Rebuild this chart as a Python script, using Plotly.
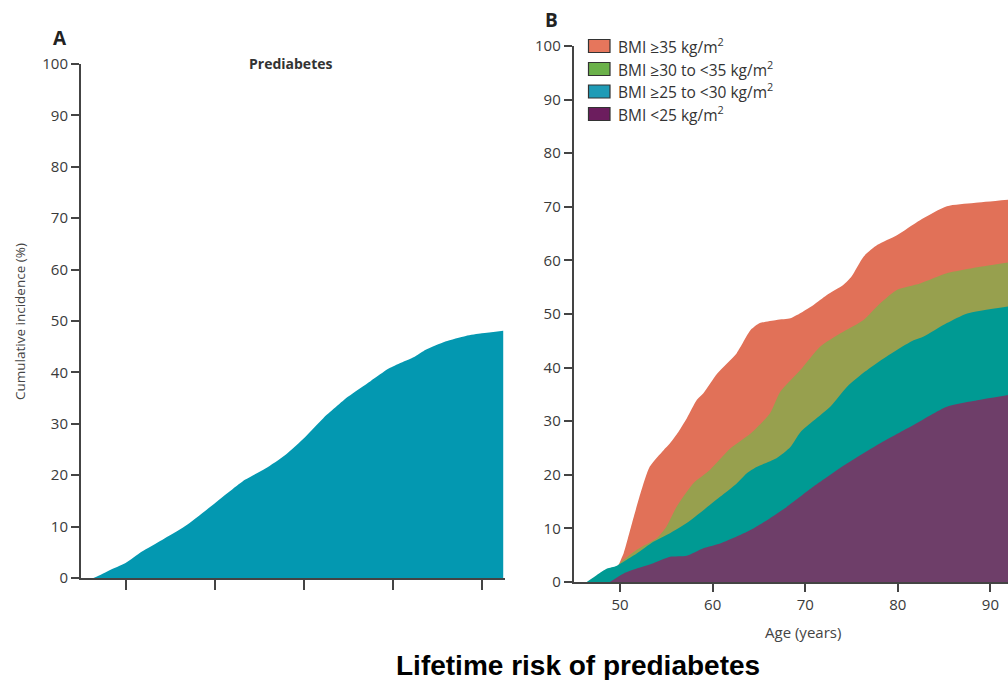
import plotly.graph_objects as go

# ---------------- Data ----------------
# Panel A: overall prediabetes cumulative incidence
age_a = [45.5, 46.4, 48.1, 50, 51.8, 54.1, 56.7, 60, 63.4, 65.7, 67.9, 70.2, 72.2, 75,
         77.5, 79.6, 82.5, 83.7, 85.9, 88.2, 90, 92.4]
inc_a = [0, 0, 1.4, 2.9, 5.1, 7.4, 10.1, 14.5, 19.1, 21.3, 23.9, 27.5, 31.1, 35.3,
         38.3, 40.8, 43.1, 44.4, 46.0, 47.1, 47.6, 48.1]

# Panel B: by BMI category
age_b35 = [49, 50, 50.4, 51.3, 52.2, 53.2, 54.7, 55.4, 56.3, 57.2, 58.3, 59, 60.5, 62.6, 64.1,
           65.1, 66.9, 68.4, 69.1, 70.9, 72.3, 74.1, 75, 76.3, 77.8, 79.9, 82.4, 85.3, 88.2, 91.9]
inc_b35 = [0, 3.8, 5.4, 11, 16.5, 21.5, 24.6, 25.9, 28, 30.5, 34, 35.2, 38.9, 42.7, 47,
           48.3, 48.9, 49.2, 49.8, 51.7, 53.5, 55.4, 57, 60.7, 62.9, 64.7, 67.5, 70.1, 70.7, 71.3]

age_b30 = [48.5, 50, 51.8, 54, 55, 56.1, 57.9, 59.7, 61.9, 64.1, 66.2, 67.3, 69.5, 71.6, 73.8,
           76.3, 78.1, 79.9, 82.4, 85.3, 88.9, 91.9]
inc_b30 = [0, 3.5, 6, 8.2, 10.3, 14, 18.4, 20.9, 24.9, 27.7, 31.5, 35.5, 39.6, 43.9, 46.4,
           48.9, 52, 54.5, 55.7, 57.6, 58.8, 59.6]

age_b25 = [46.4, 47.5, 48.6, 49.6, 50.7, 51.8, 53.6, 55.4, 57.2, 59, 60.8, 62.6, 63.7, 64.8,
           66.9, 68.4, 69.5, 72.7, 74.5, 76.5, 78.1, 79.9, 81.7, 82.8, 85.3, 87.5, 91.9]
inc_b25 = [0, 1.3, 2.5, 3, 4.1, 5.3, 7.5, 9.1, 11, 13.4, 15.9, 18.4, 20.3, 21.5,
           23.1, 25.2, 28.0, 32.7, 36.4, 39.3, 41.3, 43.3, 45.1, 45.8, 48.3, 50.1, 51.4]

age_blt25 = [48.9, 50.4, 51.8, 53.6, 55.4, 57.2, 59, 60.8, 62.6, 64.4, 66.2, 68, 70.9, 74.5,
             78.1, 81.7, 85.3, 88.9, 91.9]
inc_blt25 = [0, 1.6, 2.5, 3.5, 4.7, 4.9, 6.3, 7.2, 8.5, 10, 11.9, 14, 17.8, 22.1,
             25.9, 29.3, 32.7, 34, 34.9]

legend_labels = ["BMI ≥35 kg/m<sup>2</sup>", "BMI ≥30 to <35 kg/m<sup>2</sup>",
                 "BMI ≥25 to <30 kg/m<sup>2</sup>", "BMI <25 kg/m<sup>2</sup>"]
y_ticks = [0, 10, 20, 30, 40, 50, 60, 70, 80, 90, 100]
x_ticks = [50, 60, 70, 80, 90]

# ---------------- Styles ----------------
W, H = 1008, 680
FONT = "Open Sans"
AX = "#444444"
fill_colors = ["#E17158", "#97A04E", "#009A93", "#6E3E69"]
legend_colors = ["#E6765C", "#6BB14A", "#1E9BB6", "#6C1D5E"]

def px(x):
    return x / W

def py(y):
    return 1 - y / H

fig = go.Figure()

fig.add_trace(go.Scatter(x=age_a, y=inc_a, mode="lines", fill="tozeroy",
                         line=dict(width=0, shape="spline", smoothing=0.6),
                         fillcolor="#0398B1", xaxis="x", yaxis="y",
                         showlegend=False, hoverinfo="skip"))

series_b = [(age_b35, inc_b35), (age_b30, inc_b30), (age_b25, inc_b25), (age_blt25, inc_blt25)]
for (xs, ys), col, name in zip(series_b, fill_colors, legend_labels):
    fig.add_trace(go.Scatter(x=xs, y=ys, mode="lines", fill="tozeroy", name=name,
                             line=dict(width=0, shape="spline", smoothing=0.6),
                             fillcolor=col, xaxis="x2", yaxis="y2",
                             showlegend=False, hoverinfo="skip"))

axis_common = dict(showline=True, linecolor=AX, linewidth=2, ticks="outside",
                   tickcolor=AX, tickwidth=1.5, showgrid=False, zeroline=False,
                   automargin=False,
                   tickfont=dict(family=FONT, size=15, color="#3a3a3a"))

fig.update_layout(
    width=W, height=H,
    margin=dict(l=0, r=0, t=0, b=0, autoexpand=False),
    paper_bgcolor="white", plot_bgcolor="white",
    showlegend=False,
    xaxis=dict(domain=[px(81), px(505)], range=[45, 92.6], tickvals=x_ticks,
               showticklabels=False, ticklen=10, anchor="y", **axis_common),
    yaxis=dict(domain=[py(578), py(64)], range=[0, 100], tickvals=y_ticks,
               ticklen=8, anchor="x", **axis_common),
    xaxis2=dict(domain=[px(573.75), 1.0], range=[45, 91.9], tickvals=x_ticks,
                ticklen=8, anchor="y2", **axis_common),
    yaxis2=dict(domain=[py(582), py(46)], range=[0, 100], tickvals=y_ticks,
                ticklen=8, anchor="x2", **axis_common),
)

annotations = [
    dict(text="<b>A</b>", x=px(60), y=py(38), font=dict(family=FONT, size=19, color="#222")),
    dict(text="<b>B</b>", x=px(551), y=py(20), font=dict(family=FONT, size=19, color="#222")),
    dict(text="<b>Prediabetes</b>", x=px(290), y=py(63), font=dict(family=FONT, size=14, color="#333")),
    dict(text="Cumulative incidence (%)", x=px(20), y=py(322), textangle=-90,
         font=dict(family=FONT, size=13.5, color="#444")),
    dict(text="Age (years)", x=px(803), y=py(632), font=dict(family=FONT, size=15, color="#444")),
    dict(text="<b>Lifetime risk of prediabetes</b>", x=px(578), y=py(665),
         font=dict(family="Liberation Sans", size=28, color="#000")),
]
for a in annotations:
    a.update(xref="paper", yref="paper", showarrow=False, xanchor="center", yanchor="middle")
    fig.add_annotation(**a)

# manual legend for panel B
leg_y = [46, 69, 91.5, 114]
for yc, col, lab in zip(leg_y, legend_colors, legend_labels):
    fig.add_shape(type="rect", xref="paper", yref="paper",
                  x0=px(588.5), x1=px(610), y0=py(yc - 6.5), y1=py(yc + 6.5),
                  fillcolor=col, line=dict(color="#333", width=1.2))
    fig.add_annotation(text=lab, x=px(616), y=py(yc), xref="paper", yref="paper",
                       showarrow=False, xanchor="left", yanchor="middle",
                       font=dict(family=FONT, size=15.5, color="#333"))

fig.write_html("out.html")
